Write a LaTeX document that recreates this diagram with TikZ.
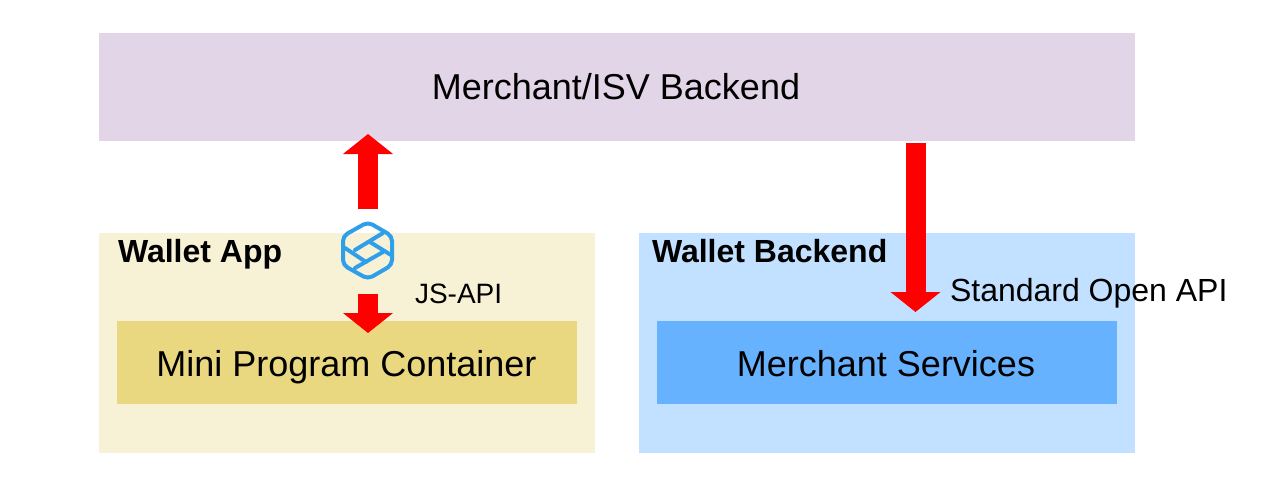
\documentclass[tikz,border=0pt]{standalone}
\usepackage{fontspec}
\setmainfont{Liberation Sans}
\usetikzlibrary{arrows.meta}
\definecolor{merchantbg}{HTML}{E1D5E7}
\definecolor{walletbg}{HTML}{F7F2D6}
\definecolor{containerbg}{HTML}{E9D87F}
\definecolor{backendbg}{HTML}{C2E0FF}
\definecolor{servicesbg}{HTML}{66B2FF}
\definecolor{iconblue}{HTML}{2F9FEA}
\begin{document}
\begin{tikzpicture}[
    x=1pt, y=-1pt,
    every node/.style={inner sep=0pt, outer sep=0pt},
    block/.style={fill=#1, anchor=north west},
    heading/.style={anchor=base, font=\fontsize{36}{40}\selectfont},
    title/.style={anchor=base west, font=\fontsize{32}{36}\selectfont\bfseries},
    apilabel/.style={anchor=base west, font=\fontsize{#1}{34}\selectfont},
    bigarrow/.style={red, line width=20pt, -{Triangle[width=49pt, length=20pt]}},
    hexline/.style={iconblue, line width=4pt, line cap=round, line join=round}
]
\useasboundingbox (0,0) rectangle (1282,488);

% Backend on top
\node[block=merchantbg, minimum width=1036pt, minimum height=108pt] (merchant) at (99,33) {};
\node[heading] (merchanttext) at (616,99.5) {Merchant/ISV Backend};

% Wallet app
\node[block=walletbg, minimum width=496pt, minimum height=220pt] (app) at (99,233) {};
\node[title] (apptitle) at (118,262) {Wallet App};
\node[block=containerbg, minimum width=460pt, minimum height=83pt] (container) at (117,321) {};
\node[heading] (containertext) at (346.5,376) {Mini Program Container};

% Wallet backend
\node[block=backendbg, minimum width=496pt, minimum height=220pt] (wallet) at (639,233) {};
\node[title] (wallettitle) at (652,262) {Wallet Backend};
\node[block=servicesbg, minimum width=460pt, minimum height=83pt] (services) at (657,321) {};
\node[heading] (servicestext) at (886,376) {Merchant Services};

% Arrows
\coordinate (upstart) at (368,209);
\coordinate (upend) at (368,134);
\coordinate (downstart) at (368,294);
\coordinate (downend) at (368,333);
\coordinate (openstart) at (915.5,143);
\coordinate (openend) at (915.5,312);
\draw[bigarrow] (upstart) -- (upend);
\draw[bigarrow] (downstart) -- (downend);
\draw[bigarrow] (openstart) -- (openend);

% Icon
\draw[hexline, rounded corners=5pt] (368,222) -- (392,236) -- (392,265) -- (368,279) -- (343,265) -- (343,236) -- cycle;
\draw[hexline] (383,233) -- (355,250);
\draw[hexline] (345,248) -- (366,262);
\draw[hexline] (370,242) -- (391,255);
\draw[hexline] (383,252) -- (355,268);

% Labels
\node[apilabel=28] (jsapi) at (415,303) {JS-API};
\node[apilabel=32] (openapi) at (950,301) {Standard Open API};
\end{tikzpicture}
\end{document}
